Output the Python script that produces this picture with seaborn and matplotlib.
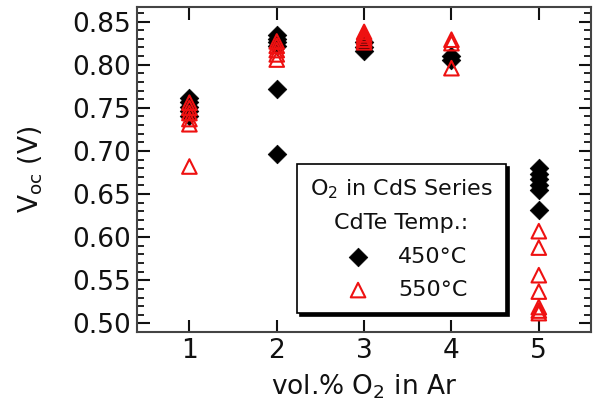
import numpy as np
import pandas as pd
import matplotlib
matplotlib.use("Agg")
import matplotlib.pyplot as plt
import seaborn as sns
from matplotlib.ticker import MultipleLocator, FormatStrFormatter

# Data
x450 = [1, 1, 1, 1, 1,
        2, 2, 2, 2, 2, 2,
        3, 3, 3,
        4, 4,
        5, 5, 5, 5, 5, 5]
v450 = [0.762, 0.757, 0.751, 0.746, 0.741,
        0.834, 0.830, 0.826, 0.822, 0.772, 0.697,
        0.826, 0.821, 0.816,
        0.810, 0.806,
        0.680, 0.673, 0.667, 0.661, 0.655, 0.631]
x550 = [1, 1, 1, 1, 1, 1,
        2, 2, 2, 2, 2,
        3, 3, 3, 3, 3,
        4, 4, 4,
        5, 5, 5, 5, 5, 5, 5]
v550 = [0.756, 0.750, 0.744, 0.737, 0.731, 0.682,
        0.827, 0.822, 0.817, 0.812, 0.806,
        0.838, 0.835, 0.832, 0.829, 0.826,
        0.829, 0.825, 0.796,
        0.607, 0.588, 0.556, 0.537, 0.519, 0.515, 0.512]
labels = ["450°C", "550°C"]
xticks = [1, 2, 3, 4, 5]

df450 = pd.DataFrame({"x": x450, "v": v450, "T": labels[0]})
df550 = pd.DataFrame({"x": x550, "v": v550, "T": labels[1]})

sns.set_style("ticks")
plt.rcParams["font.family"] = ["DejaVu Sans"]
plt.rcParams["mathtext.default"] = "regular"

fig = plt.figure(figsize=(5.93, 4.08), dpi=100)
ax = fig.add_axes([0.231, 0.186, 0.766, 0.797])

sns.scatterplot(data=df450, x="x", y="v", marker="D", color="black",
                s=90, edgecolor="black", linewidth=0.5, ax=ax, label=labels[0], zorder=2)
sns.scatterplot(data=df550, x="x", y="v", marker="^", facecolors="none",
                edgecolor="#ee1111", linewidth=1.5, s=110, ax=ax, label=labels[1], zorder=3)

ax.set_xlim(0.4, 5.6)
ax.set_ylim(0.49, 0.867)
ax.set_xticks(xticks)
ax.yaxis.set_major_locator(MultipleLocator(0.05))
ax.yaxis.set_minor_locator(MultipleLocator(0.01))
ax.yaxis.set_major_formatter(FormatStrFormatter("%.2f"))

ax.tick_params(axis="both", which="both", direction="in", top=True, right=True,
               labelsize=19, colors="#111111")
ax.tick_params(axis="both", which="major", length=9, width=1.5, pad=4)
ax.tick_params(axis="y", which="minor", length=5, width=1.3)
for sp in ax.spines.values():
    sp.set_linewidth(1.5)
    sp.set_color("#444444")

ax.set_xlabel("vol.% O$_2$ in Ar", fontsize=19, color="#111111", labelpad=6)
ax.set_ylabel("V$_{oc}$ (V)", fontsize=19, color="#111111", labelpad=20)

leg = ax.legend(title="O$_2$ in CdS Series\nCdTe Temp.:", loc="lower left",
                bbox_to_anchor=(0.352, 0.058), borderaxespad=0, fontsize=16,
                title_fontsize=16, frameon=True, fancybox=False,
                shadow={"color": "black", "alpha": 1.0, "ox": 2, "oy": -2},
                handletextpad=0.8, labelspacing=0.6, borderpad=0.6)
leg.get_title().set_multialignment("center")
leg.get_title().set_linespacing(1.75)
leg.get_title().set_color("#111111")
for t in leg.get_texts():
    t.set_color("#111111")
leg.get_frame().set_edgecolor("black")
leg.get_frame().set_linewidth(1.2)

fig.savefig("out.png", dpi=100)
